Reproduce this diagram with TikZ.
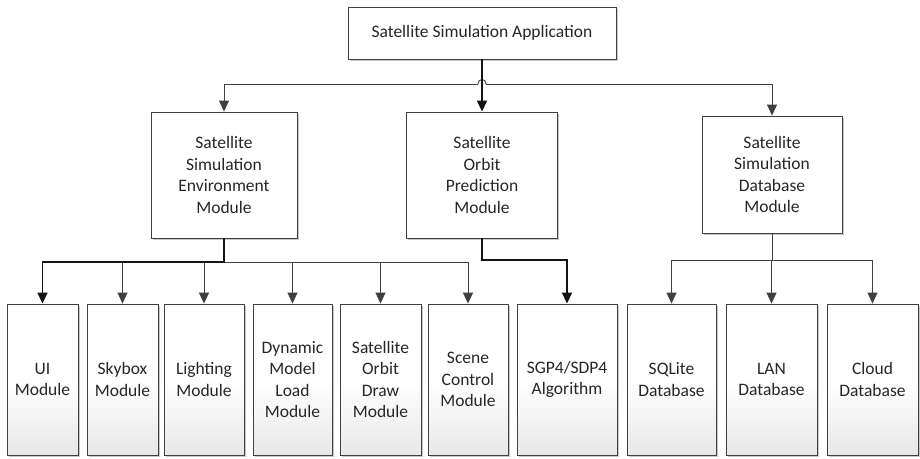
\documentclass[tikz,border=0pt]{standalone}
\usepackage{fontspec}
\setmainfont{Carlito}
\usetikzlibrary{arrows.meta,shadows}
\begin{document}
\begin{tikzpicture}[x=1pt,y=-1pt,
  box/.style={draw=black!75, line width=0.9pt, fill=white, align=center, inner sep=0pt,
    font=\fontsize{17.5}{21.5}\selectfont, text=black!85,
    drop shadow={shadow xshift=1.6pt, shadow yshift=-1.6pt, fill=black!30, opacity=0.7}},
  lowbox/.style={box, minimum height=151pt, top color=white, bottom color=black!9, middle color=white},
  thinln/.style={draw=black!75, line width=0.9pt},
  thickln/.style={draw=black!92, line width=1.8pt},
  arr/.style={-{Triangle[length=11pt,width=10pt]}}]
\useasboundingbox (0,0) rectangle (920,458);
\fill[white] (0,0) rectangle (920,458);
% top
\node[box, minimum width=268pt, minimum height=52pt] (top) at (482,33) {Satellite Simulation Application};
% second level
\node[box, minimum width=146pt, minimum height=126pt] (env) at (224,175) {Satellite\\Simulation\\Environment\\Module};
\node[box, minimum width=151pt, minimum height=126pt] (mid) at (482,175) {Satellite\\Orbit\\Prediction\\Module};
\node[box, minimum width=140pt, minimum height=117pt] (db) at (772,174.5) {Satellite\\Simulation\\Database\\Module};
% bottom
\node[lowbox, minimum width=71pt] (ui) at (42.5,379.5) {UI\\Module};
\node[lowbox, minimum width=71pt] (sky) at (122.5,379.5) {Skybox\\Module};
\node[lowbox, minimum width=80pt] (light) at (204,379.5) {Lighting\\Module};
\node[lowbox, minimum width=79pt] (dyn) at (292.5,379.5) {Dynamic\\Model\\Load\\Module};
\node[lowbox, minimum width=81pt] (orbd) at (380.5,379.5) {Satellite\\Orbit\\Draw\\Module};
\node[lowbox, minimum width=80pt] (scene) at (468,379.5) {Scene\\Control\\Module};
\node[lowbox, minimum width=100pt] (sgp) at (567,379.5) {SGP4/SDP4\\Algorithm};
\node[lowbox, minimum width=89pt] (sql) at (671.5,379.5) {SQLite\\Database};
\node[lowbox, minimum width=91pt] (lan) at (771.5,379.5) {LAN\\Database};
\node[lowbox, minimum width=91pt] (cloud) at (872.5,379.5) {Cloud\\Database};
% top connectors
\coordinate (hl) at (478,84);
\coordinate (hr) at (486,84);
\draw[thinln,arr] (hl) -| (env.north);
\draw[thinln] (hl) .. controls (478,78) and (486,78) .. (hr);
\draw[thinln,arr] (hr) -| (db.north);
\draw[thickln,arr] (top.south) -- (mid.north);
% environment connectors
\coordinate (ej) at (224,262);
\foreach \n in {sky,light,dyn,orbd,scene}
  \draw[thinln,arr] (ej) -| (\n.north);
\draw[thickln,arr] (env.south) -- (ej) -| (ui.north);
% prediction
\coordinate (mj) at (482,260);
\draw[thickln,arr] (mid.south) -- (mj) -| (sgp.north);
% database
\coordinate (dj) at (772,260);
\draw[thinln] (db.south) -- (dj);
\foreach \n in {sql,lan,cloud}
  \draw[thinln,arr] (dj) -| (\n.north);
\end{tikzpicture}
\end{document}
